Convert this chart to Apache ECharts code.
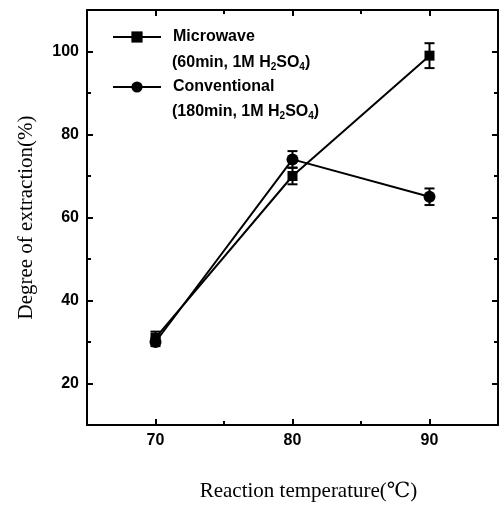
<!DOCTYPE html>
<html>
<head>
<meta charset="utf-8">
<script src="https://cdn.jsdelivr.net/npm/echarts@6/dist/echarts.min.js"></script>
<style>html,body{margin:0;padding:0;background:#fff}#c{width:504px;height:507px}</style>
</head>
<body>
<div id="c"></div>
<script>
const temps = [70, 80, 90];
const microwave = [31, 70, 99];
const microwaveErr = [1.5, 2, 3];
const conventional = [30, 74, 65];
const conventionalErr = [1, 2, 2];
const xMajorTicks = [70, 80, 90];
const xMinorTicks = [75, 85];
const yMajorTicks = [20, 40, 60, 80, 100];
const yMinorTicks = [30, 50, 70, 90];
const seriesNames = ['Microwave', 'Conventional'];
const legendSub = ['(60min, 1M H{s|2}SO{s|4})', '(180min, 1M H{s|2}SO{s|4})'];

const SANS = '"Liberation Sans", Arial, "DejaVu Sans", sans-serif';
const SERIF = '"Liberation Serif", "Times New Roman", "DejaVu Serif", serif';

function mkAxis(pos, min, max, ticks, len, showLine, labels, extra) {
  return Object.assign({
    type: 'value', position: pos, min: min, max: max,
    axisLine: { show: showLine, onZero: false, lineStyle: { color: '#000', width: 2 } },
    axisTick: { show: true, inside: true, length: len, customValues: ticks, lineStyle: { color: '#000', width: 2 } },
    axisLabel: labels ? { show: true, customValues: ticks, color: '#000', fontFamily: SANS, fontWeight: 'bold', fontSize: 16, margin: 8 } : { show: false },
    splitLine: { show: false }
  }, extra || {});
}

function errData(vals, errs) {
  return temps.map((t, i) => [t, vals[i] - errs[i], vals[i] + errs[i]]);
}

function errRender(params, api) {
  const x = api.value(0), lo = api.value(1), hi = api.value(2);
  const a = api.coord([x, hi]), b = api.coord([x, lo]);
  const w = 5;
  const st = { stroke: '#000', lineWidth: 2 };
  return {
    type: 'group',
    children: [
      { type: 'line', shape: { x1: a[0], y1: a[1], x2: b[0], y2: b[1] }, style: st },
      { type: 'line', shape: { x1: a[0] - w, y1: a[1], x2: a[0] + w, y2: a[1] }, style: st },
      { type: 'line', shape: { x1: b[0] - w, y1: b[1], x2: b[0] + w, y2: b[1] }, style: st }
    ]
  };
}

const chart = echarts.init(document.getElementById('c'), null, { renderer: 'canvas' });
chart.setOption({
  animation: false,
  backgroundColor: '#fff',
  grid: { left: 87, right: 6, top: 10, bottom: 73, containLabel: false },
  xAxis: [
    mkAxis('bottom', 65, 95, xMajorTicks, 6, true, true, {
      name: 'Reaction temperature(\u2103)', nameLocation: 'middle', nameGap: 56,
      nameTextStyle: { fontFamily: SERIF, fontSize: 21, color: '#000', padding: [0, 0, 0, 32] }
    }),
    mkAxis('bottom', 65, 95, xMinorTicks, 4, false, false),
    mkAxis('top', 65, 95, xMajorTicks, 6, true, false),
    mkAxis('top', 65, 95, xMinorTicks, 4, false, false)
  ],
  yAxis: [
    mkAxis('left', 10, 110, yMajorTicks, 6, true, true, {
      name: 'Degree of extraction(%)', nameLocation: 'middle', nameGap: 50,
      nameTextStyle: { fontFamily: SERIF, fontSize: 21, color: '#000' }
    }),
    mkAxis('left', 10, 110, yMinorTicks, 4, false, false),
    mkAxis('right', 10, 110, yMajorTicks, 6, true, false),
    mkAxis('right', 10, 110, yMinorTicks, 4, false, false)
  ],
  legend: {
    data: seriesNames,
    orient: 'vertical', left: 107, top: 24,
    itemWidth: 48, itemHeight: 14, itemGap: 34,
    textStyle: { fontFamily: SANS, fontSize: 16, fontWeight: 'bold', color: '#000', padding: [0, 0, 0, 7] }
  },
  graphic: legendSub.map((t, i) => ({
    type: 'text', left: 172, top: 55 + i * 49,
    style: {
      text: t, fill: '#000', font: 'bold 16px ' + SANS,
      rich: { s: { fontSize: 10, fontWeight: 'bold', fontFamily: SANS, fill: '#000', padding: [9, 0, 0, 0] } }
    }
  })),
  series: [
    {
      name: seriesNames[0], type: 'line', data: temps.map((t, i) => [t, microwave[i]]),
      symbol: 'rect', symbolSize: 10,
      lineStyle: { color: '#000', width: 2 }, itemStyle: { color: '#000' }, z: 3
    },
    {
      name: seriesNames[1], type: 'line', data: temps.map((t, i) => [t, conventional[i]]),
      symbol: 'circle', symbolSize: 12,
      lineStyle: { color: '#000', width: 2 }, itemStyle: { color: '#000' }, z: 3
    },
    { type: 'custom', renderItem: errRender, data: errData(microwave, microwaveErr), encode: { x: 0, y: [1, 2] }, z: 4 },
    { type: 'custom', renderItem: errRender, data: errData(conventional, conventionalErr), encode: { x: 0, y: [1, 2] }, z: 4 }
  ]
});
</script>
</body>
</html>
